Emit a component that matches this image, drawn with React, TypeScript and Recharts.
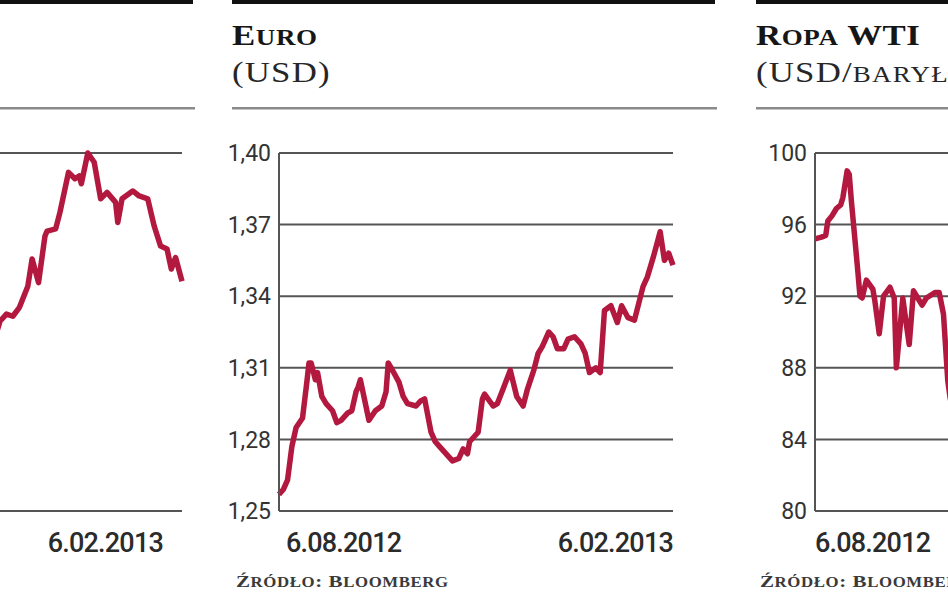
import { LineChart, Line, XAxis, YAxis, CartesianGrid } from 'recharts'

// shared time axis: days since 6.08.2012
const dateLabels = ['6.08.2012', '6.02.2013']
const dateTickDays = [0, 184]

// left panel is cut off by the crop; its scale labels are not visible, values in grid steps
const leftDays = [97, 99, 102, 105, 108, 112, 114, 117, 120, 121, 125, 127, 131, 134, 136, 137, 140, 143, 146, 149, 153, 154, 156, 161, 164, 168, 171, 174, 177, 179, 181, 184]
const leftValues = [2.45, 2.65, 2.75, 2.72, 2.84, 3.14, 3.52, 3.19, 3.84, 3.91, 3.94, 4.17, 4.73, 4.64, 4.68, 4.57, 5.0, 4.87, 4.36, 4.45, 4.31, 4.03, 4.36, 4.47, 4.4, 4.36, 3.98, 3.7, 3.66, 3.38, 3.54, 3.21]
const leftTicks = [0, 1, 2, 3, 4, 5]

const euroDays = [0, 2, 4, 6, 8, 11, 13, 14, 15, 17, 18, 20, 22, 25, 27, 29, 32, 34, 36, 37, 38, 42, 45, 48, 50, 51, 53, 56, 58, 60, 64, 66, 68, 71, 73, 75, 79, 81, 84, 86, 88, 89, 93, 95, 96, 100, 102, 105, 108, 111, 114, 116, 119, 121, 123, 126, 128, 130, 133, 135, 138, 141, 143, 145, 148, 150, 152, 155, 158, 160, 163, 166, 170, 172, 175, 178, 180, 182, 184]
const euroValues = [1.257, 1.259, 1.263, 1.277, 1.285, 1.289, 1.304, 1.312, 1.312, 1.305, 1.308, 1.298, 1.295, 1.292, 1.287, 1.288, 1.291, 1.292, 1.3, 1.302, 1.305, 1.288, 1.292, 1.294, 1.3, 1.312, 1.309, 1.304, 1.298, 1.295, 1.294, 1.296, 1.297, 1.283, 1.279, 1.277, 1.273, 1.271, 1.272, 1.276, 1.274, 1.279, 1.283, 1.297, 1.299, 1.294, 1.295, 1.302, 1.309, 1.298, 1.294, 1.301, 1.309, 1.316, 1.319, 1.325, 1.323, 1.318, 1.318, 1.322, 1.323, 1.32, 1.316, 1.308, 1.31, 1.308, 1.334, 1.336, 1.329, 1.336, 1.331, 1.33, 1.344, 1.348, 1.357, 1.367, 1.355, 1.358, 1.353]
const euroTicks = [1.25, 1.28, 1.31, 1.34, 1.37, 1.4]

// right panel is cut off after about two months
const oilDays = [0, 3, 5, 6, 8, 10, 12, 13, 15, 16, 17, 19, 20, 21, 22, 24, 27, 28, 30, 32, 35, 37, 38, 41, 42, 44, 46, 48, 50, 52, 56, 58, 60, 62, 63, 64]
const oilValues = [95.2, 95.3, 95.4, 96.2, 96.5, 96.9, 97.1, 97.5, 99.0, 98.8, 97.3, 94.7, 93.4, 92.0, 91.9, 92.9, 92.4, 91.7, 89.9, 92.0, 92.5, 91.9, 88.0, 91.9, 91.0, 89.3, 92.3, 91.9, 91.5, 91.9, 92.2, 92.2, 91.0, 87.3, 86.4, 85.8]
const oilTicks = [80, 84, 88, 92, 96, 100]

const RED = '#b3183f'
const GRID = '#555'
const TEXT = '#333'
const SERIF = 'Liberation Serif'

const toRows = (days: number[], values: number[]) => days.map((day, i) => ({ day, value: values[i] }))

const makeDateTick = (firstShift: number, lastShift: number) => (props: any) => {
  const { x, y, payload } = props
  const i = dateTickDays.indexOf(payload.value)
  const first = i === 0
  return (
    <text
      x={x + (first ? firstShift : lastShift)}
      y={y + 41}
      textAnchor={first ? 'start' : 'end'}
      fill="#2b2b2b"
      fontFamily="Roboto"
      fontWeight={500}
      fontSize={27}
      letterSpacing={-0.8}
    >
      {dateLabels[i]}
    </text>
  )
}

interface PanelProps {
  left: number
  data: Array<{ day: number; value: number }>
  domain: [number, number]
  ticks: number[]
  format?: (v: number) => string
  firstShift: number
  lastShift: number
  showTicks?: boolean
}

function Panel({ left, data, domain, ticks, format, firstShift, lastShift, showTicks = true }: PanelProps) {
  return (
    <div style={{ position: 'absolute', left, top: 0 }}>
      <LineChart width={490} height={593} data={data} margin={{ top: 153, right: 17, bottom: 52, left: 0 }}>
        <CartesianGrid vertical={false} stroke={GRID} strokeWidth={2} />
        <XAxis
          type="number"
          dataKey="day"
          domain={[0, 184]}
          ticks={dateTickDays}
          interval={0}
          height={30}
          axisLine={false}
          tickLine={false}
          tickSize={0}
          tickMargin={0}
          tick={makeDateTick(firstShift, lastShift)}
        />
        <YAxis
          type="number"
          domain={domain}
          ticks={ticks}
          interval={0}
          width={79}
          axisLine={{ stroke: GRID, strokeWidth: 2 }}
          tickLine={false}
          tick={showTicks ? { fill: TEXT, fontSize: 23, fontFamily: 'Roboto' } : false}
          tickFormatter={format}
        />
        <Line
          type="linear"
          dataKey="value"
          stroke={RED}
          strokeWidth={5.5}
          strokeLinejoin="round"
          dot={false}
          isAnimationActive={false}
        />
      </LineChart>
    </div>
  )
}

// lowercase letters drawn as small capitals, text stays as written
function SmallCaps({ text, big, small }: { text: string; big: number; small: number }) {
  const runs: Array<{ s: string; low: boolean }> = []
  for (const ch of text) {
    const low = ch !== ch.toUpperCase()
    const last = runs[runs.length - 1]
    if (last && last.low === low) last.s += ch
    else runs.push({ s: ch, low })
  }
  return (
    <>
      {runs.map((r, i) => (
        <tspan key={i} fontSize={r.low ? small : big} style={r.low ? { textTransform: 'uppercase' } : undefined}>
          {r.s}
        </tspan>
      ))}
    </>
  )
}

// the slab face of the original is wider than anything installed, so stretch a little
const wide = (x: number, y: number) => `translate(${x},${y}) scale(1.2,1)`

function Header({ x0, x1, title, unit, source }: { x0: number; x1: number; title?: string; unit?: string; source?: boolean }) {
  return (
    <g>
      <rect x={x0} y={0} width={x1 - x0} height={4} fill="#111" />
      <rect x={x0} y={107} width={x1 - x0 + 2} height={2.5} fill="#8a8a8a" />
      {title && (
        <text transform={wide(x0, 45)} fontFamily={SERIF} fontWeight="bold" fill="#161616" letterSpacing={0.5}>
          <SmallCaps text={title} big={29} small={22.5} />
        </text>
      )}
      {unit && (
        <text transform={wide(x0, 82)} fontFamily={SERIF} fill="#262626" letterSpacing={1}>
          <SmallCaps text={unit} big={29} small={22.5} />
        </text>
      )}
      {source && (
        <text transform={wide(x0 + 4, 587)} fontFamily={SERIF} fontWeight="bold" fill="#3a3a3a" letterSpacing={0.5}>
          <SmallCaps text="Źródło: Bloomberg" big={17.5} small={14} />
        </text>
      )}
    </g>
  )
}

export default function App() {
  return (
    <div style={{ position: 'fixed', left: 0, top: 0, width: 948, height: 593, overflow: 'hidden', background: '#fff' }}>
      <Panel
        left={-291}
        data={toRows(leftDays, leftValues)}
        domain={[0, 5]}
        ticks={leftTicks}
        firstShift={0}
        lastShift={-19}
        showTicks={false}
      />
      <Panel
        left={200}
        data={toRows(euroDays, euroValues)}
        domain={[1.25, 1.4]}
        ticks={euroTicks}
        format={(v) => v.toFixed(2).replace('.', ',')}
        firstShift={7}
        lastShift={0}
      />
      <Panel
        left={736}
        data={toRows(oilDays, oilValues)}
        domain={[80, 100]}
        ticks={oilTicks}
        format={(v) => String(v)}
        firstShift={0}
        lastShift={0}
      />
      <svg width={948} height={593} style={{ position: 'absolute', left: 0, top: 0, pointerEvents: 'none' }}>
        <Header x0={0} x1={193} />
        <Header x0={232} x1={715} title="Euro" unit="(USD)" source />
        <Header x0={756} x1={1000} title="Ropa WTI" unit="(USD/baryłkę)" source />
      </svg>
    </div>
  )
}
